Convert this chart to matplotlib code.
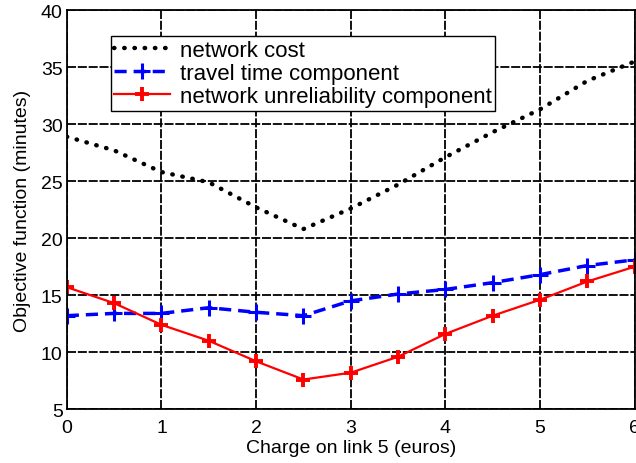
import matplotlib
matplotlib.use("Agg")
import matplotlib.pyplot as plt

plt.rcParams['font.family'] = ['Liberation Sans', 'DejaVu Sans']

charge = [0, 0.5, 1, 1.5, 2, 2.5, 3, 3.5, 4, 4.5, 5, 5.5, 6]
network_cost = [28.9, 27.7, 25.8, 24.9, 22.7, 20.8, 22.6, 24.7, 27.1, 29.3, 31.3, 33.8, 35.5]
travel_time = [13.2, 13.4, 13.4, 13.9, 13.5, 13.2, 14.5, 15.1, 15.5, 16.1, 16.8, 17.6, 18.1]
unreliability = [15.7, 14.3, 12.4, 11.0, 9.2, 7.6, 8.2, 9.6, 11.6, 13.2, 14.6, 16.2, 17.5]

fig = plt.figure(figsize=(6.36, 4.64), dpi=100)
ax = fig.add_axes([0.105, 0.116, 0.893, 0.86])

ax.plot(charge, network_cost, color='black', linestyle=(0, (0.1, 2.2)), linewidth=3.2,
        dash_capstyle='round', label='network cost')
ax.plot(charge, travel_time, color='blue', linestyle=(0, (3.5, 2)), linewidth=2.5,
        marker='+', markersize=11, markeredgewidth=2.2, label='travel time component')
ax.plot(charge, unreliability, color='red', linestyle='-', linewidth=1.6,
        marker='+', markersize=10, markeredgewidth=2.8, label='network unreliability component')

ax.set_xlim(0, 6)
ax.set_ylim(5, 40)
ax.set_xticks(range(0, 7))
ax.set_yticks(range(5, 41, 5))
ax.grid(True, color='black', linestyle=(0, (5, 1)), linewidth=1.3)
ax.tick_params(labelsize=14, direction='in', length=0)
ax.tick_params(axis='x', pad=7)
ax.tick_params(axis='y', pad=3)
for s in ax.spines.values():
    s.set_linewidth(1.3)

ax.set_xlabel('Charge on link 5 (euros)', fontsize=14, labelpad=2)
ax.set_ylabel('Objective function (minutes)', fontsize=14, labelpad=7)

leg = ax.legend(loc='upper left', bbox_to_anchor=(0.058, 0.962), fontsize=16,
                frameon=True, fancybox=False, framealpha=1, edgecolor='black',
                handlelength=2.5, borderpad=0.15, labelspacing=0.1, handletextpad=0.45)
leg.get_frame().set_linewidth(1.0)

fig.savefig('out.png', dpi=100)
